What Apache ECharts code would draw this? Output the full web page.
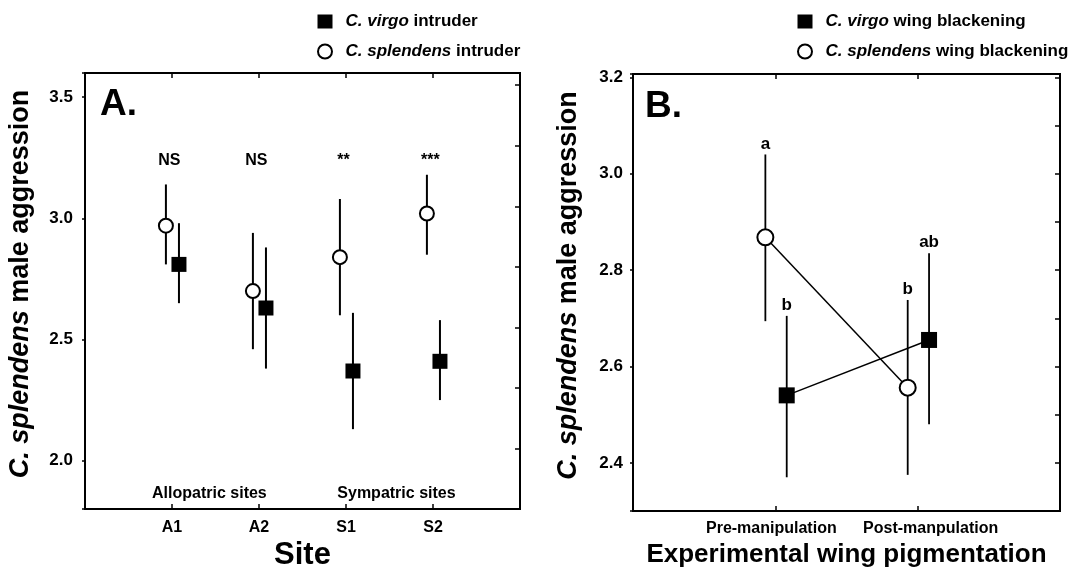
<!DOCTYPE html>
<html>
<head>
<meta charset="utf-8">
<script src="https://cdn.jsdelivr.net/npm/echarts@6/dist/echarts.min.js"></script>
<style>html,body{margin:0;padding:0;background:#fff;}#c{width:1071px;height:576px;}</style>
</head>
<body>
<div id="c"></div>
<script>
// ---------- Panel A data ----------
const sites = ['A1', 'A2', 'S1', 'S2'];
const virgoMeanA = [2.81, 2.63, 2.37, 2.41];
const virgoLowA = [2.65, 2.38, 2.13, 2.25];
const virgoHighA = [2.98, 2.88, 2.61, 2.58];
const splendMeanA = [2.97, 2.70, 2.84, 3.02];
const splendLowA = [2.81, 2.46, 2.60, 2.85];
const splendHighA = [3.14, 2.94, 3.08, 3.18];
const sigLabelsA = ['NS', 'NS', '**', '***'];
const sigYA = 3.24;
const regionLabels = ['Allopatric sites', 'Sympatric sites'];
const regionXA = [1.43, 3.58];
const regionYA = 1.865;
const yTicksA = [2.0, 2.5, 3.0, 3.5];

// ---------- Panel B data ----------
const phases = ['Pre-manipulation', 'Post-manpulation'];
const virgoMeanB = [2.54, 2.655];
const virgoLowB = [2.37, 2.48];
const virgoHighB = [2.705, 2.835];
const splendMeanB = [2.868, 2.556];
const splendLowB = [2.694, 2.375];
const splendHighB = [3.04, 2.738];
const lettersVirgoB = ['b', 'ab'];
const lettersSplendB = ['a', 'b'];
const yTicksB = [2.4, 2.6, 2.8, 3.0, 3.2];

// ---------- helpers ----------
const FONT = '"Liberation Sans", Arial, sans-serif';
const OFF_CIRCLE = -0.07, OFF_SQUARE = 0.08;
const pts = (means, off) => means.map((v, i) => [i + 1 + off, v]);
const bars = (lows, highs, off) => lows.map((v, i) => [i + 1 + off, v, highs[i]]);

function errRender(width) {
  return function (params, api) {
    const p1 = api.coord([api.value(0), api.value(1)]);
    const p2 = api.coord([api.value(0), api.value(2)]);
    return { type: 'line', shape: { x1: p1[0], y1: p1[1], x2: p2[0], y2: p2[1] },
      style: { stroke: '#000', lineWidth: width } };
  };
}
function textRender(texts, size, vAlign, dy) {
  return function (params, api) {
    const p = api.coord([api.value(0), api.value(1)]);
    return { type: 'text', x: p[0], y: p[1] + dy,
      style: { text: texts[params.dataIndex], fill: '#000', font: 'bold ' + size + 'px ' + FONT,
        align: 'center', verticalAlign: vAlign } };
  };
}
const italicFmt = name => name.replace(/^(C\. \w+)(.*)$/, '{sp|}{i|$1}{n|$2}');
const tickFmt = list => v => list.some(t => Math.abs(t - v) < 1e-6) ? v.toFixed(1) : '';

const axisLine = { show: true, onZero: false, lineStyle: { color: '#000', width: 2 } };
const legendText = { fontSize: 17, fontWeight: 'bold', color: '#000', fontFamily: FONT,
  rich: { sp: { width: 8 },
          i: { fontSize: 17, fontWeight: 'bold', fontStyle: 'italic', color: '#000', fontFamily: FONT },
          n: { fontSize: 17, fontWeight: 'bold', color: '#000', fontFamily: FONT } } };
const yNameStyle = { fontSize: 27, fontWeight: 'bold', color: '#000', fontFamily: FONT,
  rich: { sp: { width: 14 },
          i: { fontSize: 27, fontWeight: 'bold', fontStyle: 'italic', color: '#000', fontFamily: FONT },
          n: { fontSize: 27, fontWeight: 'bold', color: '#000', fontFamily: FONT } } };
const yName = '{sp|}{i|C. splendens}{n| male aggression}';

const option = {
  animation: false,
  backgroundColor: '#fff',
  textStyle: { fontFamily: FONT },
  title: [
    { text: 'A.', left: 100, top: 86, padding: 0, textStyle: { fontSize: 37, fontWeight: 'bold', color: '#000', fontFamily: FONT } },
    { text: 'B.', left: 645, top: 88, padding: 0, textStyle: { fontSize: 37, fontWeight: 'bold', color: '#000', fontFamily: FONT } }
  ],
  legend: [
    { left: 317, top: 13, padding: 0, orient: 'vertical', itemWidth: 15, itemHeight: 14, itemGap: 13, selectedMode: false,
      textStyle: legendText, formatter: italicFmt,
      data: [
        { name: 'C. virgo intruder', icon: 'rect', itemStyle: { color: '#000', borderWidth: 0 } },
        { name: 'C. splendens intruder', icon: 'circle', itemStyle: { color: '#fff', borderColor: '#000', borderWidth: 2 } }
      ] },
    { left: 797, top: 13, padding: 0, orient: 'vertical', itemWidth: 15, itemHeight: 14, itemGap: 13, selectedMode: false,
      textStyle: legendText, formatter: italicFmt,
      data: [
        { name: 'C. virgo wing blackening', icon: 'rect', itemStyle: { color: '#000', borderWidth: 0 } },
        { name: 'C. splendens wing blackening', icon: 'circle', itemStyle: { color: '#fff', borderColor: '#000', borderWidth: 2 } }
      ] }
  ],
  grid: [
    { left: 85, right: 551, top: 73, bottom: 65, show: true, borderColor: '#000', borderWidth: 2, backgroundColor: '#fff' },
    { left: 633, right: 11, top: 74, bottom: 65, show: true, borderColor: '#000', borderWidth: 2, backgroundColor: '#fff' }
  ],
  xAxis: [
    { gridIndex: 0, type: 'value', min: 0, max: 5, interval: 1, position: 'bottom', axisLine,
      axisTick: { inside: true, length: 5, lineStyle: { color: '#000', width: 1.5 } },
      axisLabel: { margin: 10, fontSize: 16, fontWeight: 'bold', color: '#000', formatter: v => sites[v - 1] || '' },
      splitLine: { show: false },
      name: 'Site', nameLocation: 'middle', nameGap: 28,
      nameTextStyle: { fontSize: 31, fontWeight: 'bold', color: '#000', fontFamily: FONT } },
    { gridIndex: 0, type: 'value', min: 0, max: 5, interval: 1, position: 'top', axisLine,
      axisTick: { inside: true, length: 5, lineStyle: { color: '#000', width: 1.5 } },
      axisLabel: { show: false }, splitLine: { show: false } },
    { gridIndex: 1, type: 'value', min: 0, max: 3, interval: 1, position: 'bottom', axisLine,
      axisTick: { inside: true, length: 5, lineStyle: { color: '#000', width: 1.5 } },
      axisLabel: { margin: 10, fontSize: 16, fontWeight: 'bold', color: '#000',
        formatter: v => v === 1 ? '{pre|' + phases[0] + '}' : (v === 2 ? '{post|' + phases[1] + '}' : ''),
        rich: { pre: { fontSize: 16, fontWeight: 'bold', color: '#000', padding: [0, 8, 0, 0] },
                post: { fontSize: 16, fontWeight: 'bold', color: '#000', padding: [0, 0, 0, 26] } } },
      splitLine: { show: false },
      name: 'Experimental wing pigmentation', nameLocation: 'middle', nameGap: 27,
      nameTextStyle: { fontSize: 26, fontWeight: 'bold', color: '#000', fontFamily: FONT } },
    { gridIndex: 1, type: 'value', min: 0, max: 3, interval: 1, position: 'top', axisLine,
      axisTick: { inside: true, length: 5, lineStyle: { color: '#000', width: 1.5 } },
      axisLabel: { show: false }, splitLine: { show: false } }
  ],
  yAxis: [
    { gridIndex: 0, type: 'value', min: 1.8, max: 3.6, splitNumber: 4, position: 'left', axisLine,
      axisTick: { show: true, inside: false, length: 3, lineStyle: { color: '#000', width: 1.5 } },
      axisLabel: { margin: 12, fontSize: 17, fontWeight: 'bold', color: '#000', formatter: tickFmt(yTicksA) },
      splitLine: { show: false },
      name: yName, nameLocation: 'middle', nameGap: 51, nameTextStyle: yNameStyle },
    { gridIndex: 0, type: 'value', min: 1.8, max: 3.6, interval: 0.25, position: 'right', axisLine,
      axisTick: { inside: true, length: 5, lineStyle: { color: '#000', width: 1.5 } },
      axisLabel: { show: false }, splitLine: { show: false } },
    { gridIndex: 1, type: 'value', min: 2.3, max: 3.207, splitNumber: 4, position: 'left', axisLine,
      axisTick: { show: true, inside: false, length: 3, lineStyle: { color: '#000', width: 1.5 } },
      axisLabel: { margin: 10, fontSize: 17, fontWeight: 'bold', color: '#000', formatter: tickFmt(yTicksB) },
      splitLine: { show: false },
      name: yName, nameLocation: 'middle', nameGap: 51, nameTextStyle: yNameStyle },
    { gridIndex: 1, type: 'value', min: 2.3, max: 3.207, interval: 0.1, position: 'right', axisLine,
      axisTick: { inside: true, length: 5, lineStyle: { color: '#000', width: 1.5 } },
      axisLabel: { show: false }, splitLine: { show: false } }
  ],
  series: [
    // ---- Panel A ----
    { type: 'custom', xAxisIndex: 0, yAxisIndex: 0, z: 1, renderItem: errRender(2),
      encode: { x: 0, y: [1, 2] }, data: bars(splendLowA, splendHighA, OFF_CIRCLE) },
    { type: 'custom', xAxisIndex: 0, yAxisIndex: 0, z: 1, renderItem: errRender(2),
      encode: { x: 0, y: [1, 2] }, data: bars(virgoLowA, virgoHighA, OFF_SQUARE) },
    { name: 'C. splendens intruder', type: 'scatter', xAxisIndex: 0, yAxisIndex: 0, z: 3,
      symbol: 'circle', symbolSize: 14,
      itemStyle: { color: '#fff', borderColor: '#000', borderWidth: 2, opacity: 1 },
      data: pts(splendMeanA, OFF_CIRCLE) },
    { name: 'C. virgo intruder', type: 'scatter', xAxisIndex: 0, yAxisIndex: 0, z: 3,
      symbol: 'rect', symbolSize: 15, itemStyle: { color: '#000', opacity: 1 },
      data: pts(virgoMeanA, OFF_SQUARE) },
    { type: 'custom', xAxisIndex: 0, yAxisIndex: 0, z: 4, renderItem: textRender(sigLabelsA, 16, 'middle', 0),
      encode: { x: 0, y: 1 }, data: sigLabelsA.map((s, i) => [i + 1 - 0.03, sigYA]) },
    { type: 'custom', xAxisIndex: 0, yAxisIndex: 0, z: 4, renderItem: textRender(regionLabels, 16, 'middle', 0),
      encode: { x: 0, y: 1 }, data: regionLabels.map((s, i) => [regionXA[i], regionYA]) },
    // ---- Panel B ----
    { type: 'custom', xAxisIndex: 2, yAxisIndex: 2, z: 1, renderItem: errRender(1.8),
      encode: { x: 0, y: [1, 2] }, data: bars(splendLowB, splendHighB, OFF_CIRCLE) },
    { type: 'custom', xAxisIndex: 2, yAxisIndex: 2, z: 1, renderItem: errRender(1.8),
      encode: { x: 0, y: [1, 2] }, data: bars(virgoLowB, virgoHighB, OFF_SQUARE) },
    { name: 'C. splendens wing blackening', type: 'line', xAxisIndex: 2, yAxisIndex: 2, z: 3,
      symbol: 'circle', symbolSize: 16, showAllSymbol: true,
      lineStyle: { color: '#000', width: 1.5 },
      itemStyle: { color: '#fff', borderColor: '#000', borderWidth: 2 },
      data: pts(splendMeanB, OFF_CIRCLE) },
    { name: 'C. virgo wing blackening', type: 'line', xAxisIndex: 2, yAxisIndex: 2, z: 3,
      symbol: 'rect', symbolSize: 16, showAllSymbol: true,
      lineStyle: { color: '#000', width: 1.5 },
      itemStyle: { color: '#000' },
      data: pts(virgoMeanB, OFF_SQUARE) },
    { type: 'custom', xAxisIndex: 2, yAxisIndex: 2, z: 4, renderItem: textRender(lettersSplendB, 17, 'bottom', -2),
      encode: { x: 0, y: 1 }, data: splendHighB.map((v, i) => [i + 1 + OFF_CIRCLE, v]) },
    { type: 'custom', xAxisIndex: 2, yAxisIndex: 2, z: 4, renderItem: textRender(lettersVirgoB, 17, 'bottom', -2),
      encode: { x: 0, y: 1 }, data: virgoHighB.map((v, i) => [i + 1 + OFF_SQUARE, v]) }
  ]
};

const chart = echarts.init(document.getElementById('c'), null, { renderer: 'canvas' });
chart.setOption(option);
</script>
</body>
</html>
